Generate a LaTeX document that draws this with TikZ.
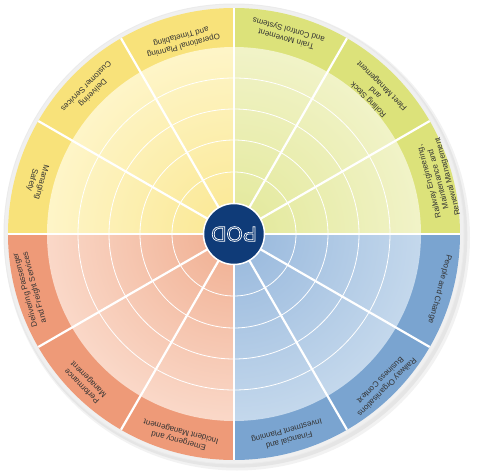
\documentclass[tikz,border=0pt]{standalone}
\usepackage{fontspec}
\setmainfont{Liberation Sans}
\definecolor{bandG}{HTML}{DCE27A}
\definecolor{innG}{HTML}{F1F3C8}
\definecolor{ctrG}{HTML}{E2E898}
\definecolor{bandY}{HTML}{F8E27A}
\definecolor{innY}{HTML}{FEF5C8}
\definecolor{ctrY}{HTML}{FAE790}
\definecolor{bandO}{HTML}{EE9A78}
\definecolor{innO}{HTML}{FAD8C8}
\definecolor{ctrO}{HTML}{F0AE90}
\definecolor{bandB}{HTML}{7AA4D0}
\definecolor{innB}{HTML}{C4D8EC}
\definecolor{ctrB}{HTML}{96B7DC}
\definecolor{navy}{HTML}{0F3B78}
\definecolor{labtext}{HTML}{333333}
\newcommand{\outlinetext}[1]{\special{pdf:code 1 Tr 0.7 w}#1\special{pdf:code 0 Tr}}
\begin{document}
\begin{tikzpicture}[x=1pt,y=1pt,
  lab/.style={font=\fontsize{8}{9.6}\selectfont, text=labtext, align=center, inner sep=0pt},
  sep/.style={white, line width=2.2pt},
  ring/.style={white, line width=0.8pt}]
\useasboundingbox (-234,-238) rectangle (243,234);
% shadow and rim
\fill[black!5] (3,-3.5) circle (233);
\fill[black!10] (1.8,-2.2) circle (231.5);
\fill[black!8] (0,0) circle (230.5);
\fill[white!94!black] (0,0) circle (229.5);
% quadrants
\foreach \a/\band/\inn/\ctr in {0/bandG/innG/ctrG, 90/bandY/innY/ctrY, 180/bandO/innO/ctrO, 270/bandB/innB/ctrB}{
  \fill[\band] (0,0) -- (\a:226) arc (\a:\a+90:226) -- cycle;
  \begin{scope}
    \clip (0,0) -- (\a:200) arc (\a:\a+90:200) -- cycle;
    \shade[inner color=\ctr, outer color=\inn] (0,0) circle (187);
  \end{scope}
}
% rings
\foreach \r in {62,94,125,156} \draw[ring] (0,0) circle (\r);
% separators
\foreach \a in {0,30,...,330} \draw[sep] (\a:30) -- (\a:226);
% centre
\node[circle, fill=navy, draw=white, line width=1.5pt, minimum size=61pt, inner sep=0pt] (pod) at (0,0) {};
\node[rotate=180, font=\fontsize{21}{21}\selectfont, text=white, inner sep=0pt] (podtext) at (pod.center) {\outlinetext{POD}};
% labels
\node[lab, rotate=105] (l15)  at (15:212)  {Railway Engineering,\\Maintenance and\\Renewal Management};
\node[lab, rotate=135] (l45)  at (45:200)  {Rolling Stock\\and\\Fleet Management};
\node[lab, rotate=165] (l75)  at (75:207)  {Train Movement\\and Control Systems};
\node[lab, rotate=195] (l105) at (105:200) {Operational Planning\\and Timetabling};
\node[lab, rotate=225] (l135) at (135:204) {Delivering\\Customer Services};
\node[lab, rotate=255] (l165) at (165:204) {Managing\\Safety};
\node[lab, rotate=105] (l195) at (195:211) {Delivering Passenger\\and Freight Services};
\node[lab, rotate=135] (l225) at (225:210) {Performance\\Management};
\node[lab, rotate=165] (l255) at (255:209) {Emergency and\\Incident Management};
\node[lab, rotate=195] (l285) at (285:208) {Financial and\\Investment Planning};
\node[lab, rotate=225] (l315) at (315:212) {Railway Organisations\\Business Context};
\node[lab, rotate=255] (l345) at (345:213) {People and Change};
\end{tikzpicture}
\end{document}
